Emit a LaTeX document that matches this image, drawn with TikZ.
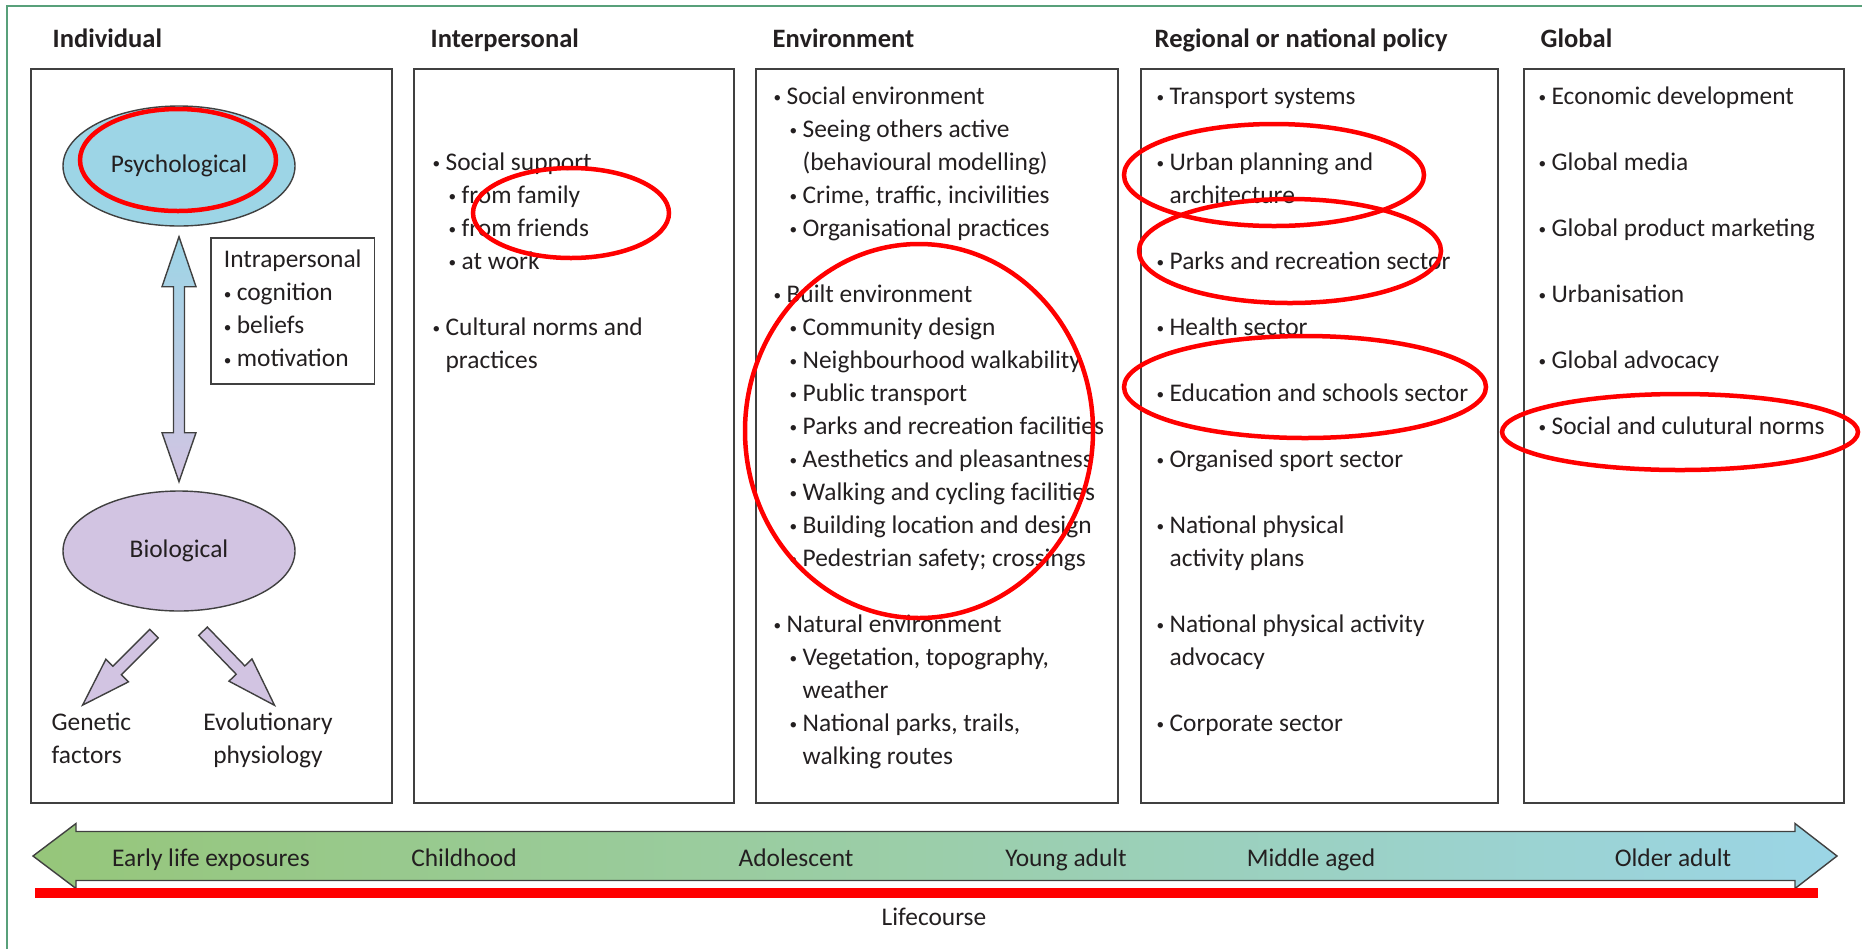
\documentclass[tikz,border=0pt]{standalone}
\usepackage{graphicx}
\usepackage{fontspec}
\setmainfont{Carlito}
\usetikzlibrary{shapes.geometric,positioning}

\definecolor{ink}{RGB}{35,31,32}
\definecolor{boxline}{RGB}{64,64,64}
\definecolor{psychblue}{RGB}{157,213,230}
\definecolor{biopurple}{RGB}{210,196,226}
\definecolor{lifegreen}{RGB}{150,198,122}
\definecolor{lifemid}{RGB}{155,206,170}
\definecolor{lifeblue}{RGB}{155,213,230}
\definecolor{framegreen}{RGB}{88,160,122}
\definecolor{markred}{RGB}{255,0,0}

\newcommand{\bul}{\raisebox{.15ex}{\scalebox{.6}{\textbullet}}\hspace{.21em}}
\newcommand{\nobul}{\hphantom{\bul}}
\newcommand{\subbul}{\hspace{.63em}\bul}
\newcommand{\subnobul}{\hspace{.63em}\nobul}

\begin{document}
\begin{tikzpicture}
  % Define styles for nodes
  \tikzstyle{column} = [anchor=north west, draw=boxline, line width=0.5pt,
  rectangle, minimum height=7.34cm, inner sep=0]
  \tikzstyle{heading} = [anchor=base west, inner sep=0, text=ink,
  font=\fontsize{7.55}{9}\selectfont\bfseries]
  \tikzstyle{items} = [anchor=north west, inner sep=0, align=left, text=ink,
  font=\fontsize{7.23}{9.38}\selectfont]
  \tikzstyle{blob} = [ellipse, draw=boxline, line width=0.4pt, minimum
  width=2.32cm, minimum height=1.2cm, inner sep=0, text=ink,
  font=\fontsize{7.23}{9.38}\selectfont]
  \tikzstyle{stage} = [anchor=base, inner sep=0, text=ink,
  font=\fontsize{7.23}{9.38}\selectfont]
  \tikzstyle{fat} = [draw=boxline, line width=0.4pt, line join=miter]
  \tikzstyle{ring} = [draw=markred, line width=0.045cm]

  \useasboundingbox (0,0) rectangle (18.62,-9.49);

  % Green frame
  \draw[framegreen, line width=0.6pt] (0.07,-9.49) -- (0.07,-0.06) -- (18.62,-0.06);

  % Headings at top
  \node[heading] (individual) at (0.52,-0.47) {Individual};
  \node[heading] (interpersonal) at (4.30,-0.47) {Interpersonal};
  \node[heading] (environment) at (7.72,-0.47) {Environment};
  \node[heading] (regional) at (11.54,-0.47) {Regional or national policy};
  \node[heading] (global) at (15.40,-0.47) {Global};

  % Column boxes
  \node[column, minimum width=3.61cm] (indbox) at (0.30,-0.68) {};
  \node[column, minimum width=3.20cm] (interbox) at (4.13,-0.68) {};
  \node[column, minimum width=3.62cm] (envbox) at (7.55,-0.68) {};
  \node[column, minimum width=3.57cm] (regbox) at (11.40,-0.68) {};
  \node[column, minimum width=3.20cm] (globbox) at (15.23,-0.68) {};

  % Individual column
  \node[blob, fill=psychblue] (psych) at (1.79,-1.66) {Psychological};
  \node[blob, fill=biopurple] (bio) at (1.79,-5.51) {Biological};
  \node[items, draw=boxline, line width=0.5pt, inner xsep=0.13cm,
  inner ysep=0.07cm] (intra) at (2.10,-2.37)
  {\strut Intrapersonal\\ \bul cognition\\ \bul beliefs\\ \bul motivation\strut};

  \draw[fat, top color=psychblue, bottom color=biopurple]
  ([yshift=-0.1cm]psych.south) -- ++(0.17,-0.5) -- ++(-0.115,0) --
  ++(0,-1.46) -- ++(0.115,0) -- ++(-0.17,-0.49) -- ++(-0.17,0.49) --
  ++(0.115,0) -- ++(0,1.46) -- ++(-0.115,0) -- cycle;

  \draw[fat, fill=biopurple, shift={([xshift=-0.25cm,yshift=-0.22cm]bio.south)},
  rotate=225] (0,0.06) -- (0.52,0.06) -- (0.52,0.16) -- (1.01,0) --
  (0.52,-0.16) -- (0.52,-0.06) -- (0,-0.06) -- cycle;
  \draw[fat, fill=biopurple, shift={([xshift=0.24cm,yshift=-0.195cm]bio.south)},
  rotate=-46] (0,0.06) -- (0.54,0.06) -- (0.54,0.16) -- (1.03,0) --
  (0.54,-0.16) -- (0.54,-0.06) -- (0,-0.06) -- cycle;

  \node[items] (genetic) at (0.51,-7.07) {\strut Genetic\\factors};
  \node[items, anchor=north, align=center] (evolution) at (2.68,-7.07)
  {\strut Evolutionary\\physiology};

  % Interpersonal column
  \node[items] (interitems) at (4.32,-1.47) {\strut\bul Social support\\
    \subbul from family\\
    \subbul from friends\\
    \subbul at work\\[\baselineskip]
    \bul Cultural norms and\\
    \nobul practices};

  % Environment column
  \node[items] (envitems) at (7.73,-0.81) {\strut\bul Social environment\\
    \subbul Seeing others active\\
    \subnobul (behavioural modelling)\\
    \subbul Crime, traffic, incivilities\\
    \subbul Organisational practices\\[\baselineskip]
    \bul Built environment\\
    \subbul Community design\\
    \subbul Neighbourhood walkability\\
    \subbul Public transport\\
    \subbul Parks and recreation facilities\\
    \subbul Aesthetics and pleasantness\\
    \subbul Walking and cycling facilities\\
    \subbul Building location and design\\
    \subbul Pedestrian safety; crossings\\[\baselineskip]
    \bul Natural environment\\
    \subbul Vegetation, topography,\\
    \subnobul weather\\
    \subbul National parks, trails,\\
    \subnobul walking routes};

  % Regional or national policy column
  \node[items] (regitems) at (11.56,-0.81) {\strut\bul Transport systems\\[\baselineskip]
    \bul Urban planning and\\
    \nobul architecture\\[\baselineskip]
    \bul Parks and recreation sector\\[\baselineskip]
    \bul Health sector\\[\baselineskip]
    \bul Education and schools sector\\[\baselineskip]
    \bul Organised sport sector\\[\baselineskip]
    \bul National physical\\
    \nobul activity plans\\[\baselineskip]
    \bul National physical activity\\
    \nobul advocacy\\[\baselineskip]
    \bul Corporate sector};

  % Global column
  \node[items] (globitems) at (15.38,-0.81) {\strut\bul Economic development\\[\baselineskip]
    \bul Global media\\[\baselineskip]
    \bul Global product marketing\\[\baselineskip]
    \bul Urbanisation\\[\baselineskip]
    \bul Global advocacy\\[\baselineskip]
    \bul Social and culutural norms};

  % Lifecourse arrow
  \coordinate (young) at (0.33,-8.56);
  \coordinate (old) at (18.37,-8.56);
  \draw[fat, left color=lifegreen, right color=lifeblue, middle color=lifemid]
  (young) -- ++(0.43,0.325) -- ++(0,-0.08) -- ++(17.19,0) -- ++(0,0.08) --
  (old) -- ++(-0.42,-0.325) -- ++(0,0.08) -- ++(-17.19,0) -- ++(0,-0.08) -- cycle;

  \node[stage] (early) at (2.11,-8.66) {Early life exposures};
  \node[stage] (child) at (4.64,-8.66) {Childhood};
  \node[stage] (adolescent) at (7.96,-8.66) {Adolescent};
  \node[stage] (youngadult) at (10.66,-8.66) {Young adult};
  \node[stage] (middle) at (13.11,-8.66) {Middle aged};
  \node[stage] (olderadult) at (16.73,-8.66) {Older adult};

  \draw[markred, line width=0.1cm] (0.35,-8.93) -- (18.18,-8.93);
  \node[stage] (lifecourse) at (9.34,-9.25) {Lifecourse};

  % Red rings on top
  \draw[ring] (1.78,-1.60) ellipse [x radius=0.98, y radius=0.51];
  \draw[ring] (5.71,-2.13) ellipse [x radius=0.98, y radius=0.45];
  \draw[ring] (9.19,-4.31) ellipse [x radius=1.74, y radius=1.87];
  \draw[ring] (12.74,-1.75) ellipse [x radius=1.50, y radius=0.51];
  \draw[ring] (12.90,-2.51) ellipse [x radius=1.51, y radius=0.52];
  \draw[ring] (13.05,-3.87) ellipse [x radius=1.81, y radius=0.51];
  \draw[ring] (16.80,-4.32) ellipse [x radius=1.78, y radius=0.38];

\end{tikzpicture}
\end{document}
